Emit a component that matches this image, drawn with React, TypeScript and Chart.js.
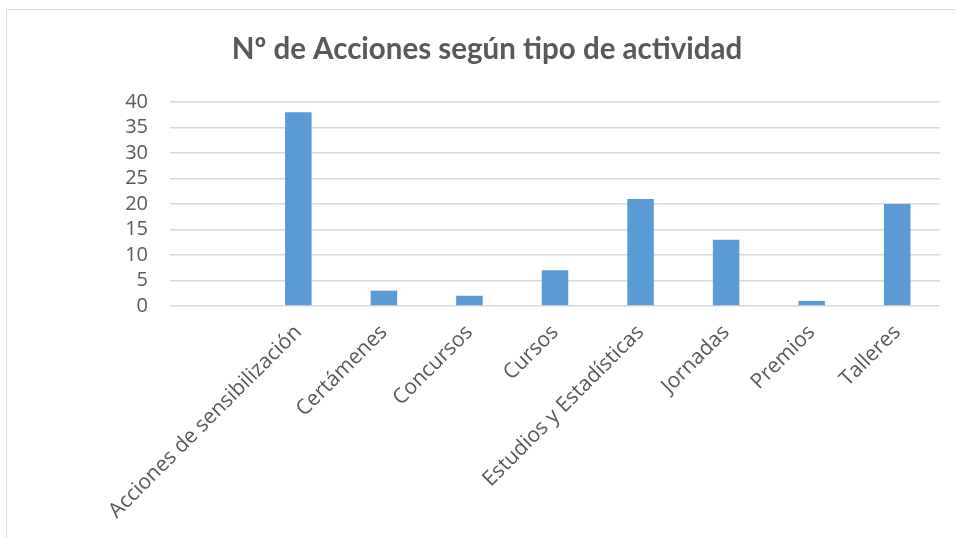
import React, { useEffect, useRef } from "react";
import { Chart, registerables } from "chart.js";

Chart.register(...registerables);

const categories = [
  "",
  "Acciones de sensibilización",
  "Certámenes",
  "Concursos",
  "Cursos",
  "Estudios y Estadísticas",
  "Jornadas",
  "Premios",
  "Talleres",
];
const values = [null, 38, 3, 2, 7, 21, 13, 1, 20];
const title = "Nº de Acciones según tipo de actividad";

export default function App() {
  const ref = useRef<HTMLCanvasElement>(null);
  useEffect(() => {
    document.body.style.margin = "0";
    const chart = new Chart(ref.current!, {
      type: "bar",
      data: {
        labels: categories,
        datasets: [
          {
            data: values as any,
            backgroundColor: "#5B9BD5",
            categoryPercentage: 1,
            barPercentage: 0.31,
          },
        ],
      },
      options: {
        animation: false,
        responsive: false,
        layout: { padding: { left: 34, right: 16, top: 0, bottom: 0 } },
        plugins: {
          legend: { display: false },
          tooltip: { enabled: false },
          title: {
            display: true,
            text: title,
            color: "#595959",
            font: { family: "Lato", size: 29.5, weight: "bold", lineHeight: 1.2 },
            padding: { top: 32, bottom: 34.6 },
          },
        },
        scales: {
          x: {
            grid: { display: false },
            border: { display: false },
            ticks: {
              autoSkip: false,
              maxRotation: 45,
              minRotation: 45,
              color: "#595959",
              font: { family: "Open Sans", size: 21 },
              padding: 6,
            },
            afterFit: (s: any) => {
              s.height = 232;
            },
          },
          y: {
            min: 0,
            max: 40,
            ticks: {
              stepSize: 5,
              autoSkip: false,
              color: "#595959",
              font: { family: "Open Sans", size: 20 },
              padding: 22,
            },
            grid: { color: "#D9D9D9", lineWidth: 1.5, drawTicks: false },
            border: { display: false },
            afterFit: (s: any) => {
              s.width = 136;
            },
          },
        },
      },
    });
    return () => chart.destroy();
  }, []);
  return (
    <div style={{ position: "relative", width: 956, height: 538, overflow: "hidden", background: "#fff" }}>
      <div
        style={{
          position: "absolute",
          left: 6,
          top: 9,
          width: 1000,
          height: 600,
          borderLeft: "1.5px solid #D9D9D9",
          borderTop: "1.5px solid #D9D9D9",
        }}
      />
      <canvas ref={ref} width={956} height={538} style={{ position: "absolute", left: 0, top: 0 }} />
    </div>
  );
}
